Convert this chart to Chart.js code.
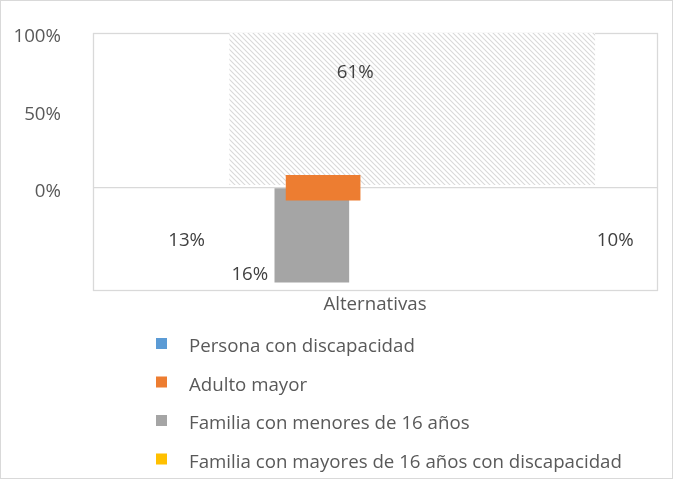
<!DOCTYPE html>
<html>
<head>
<meta charset="utf-8">
<script src="https://cdn.jsdelivr.net/npm/chart.js@4/dist/chart.umd.min.js"></script>
<style>
html,body{margin:0;padding:0;background:#fff;}
canvas{display:block;}
</style>
</head>
<body>
<canvas id="c" width="673" height="479"></canvas>
<script>
// ---- data ----
const categories = ['Alternativas'];
const seriesNames = [
  'Persona con discapacidad',
  'Adulto mayor',
  'Familia con menores de 16 años',
  'Familia con mayores de 16 años con discapacidad'
];
const seriesShares = [13, 10, 16, 61];          // data labels (%)
const yTickValues = [0, 50, 100];
// value-axis extents of the visible (distorted) marks
const adultoRange  = [8, -8];
const menoresRange = [0, -61];
const mayoresRange = [2, 100];
// positions of those marks on the hidden horizontal scale (0–100)
const adultoX = 40.8;
const menoresX = 38.8;
const mayoresX = 56.6;

// ---- styles ----
const legendColors = ['#5B9BD5', '#ED7D31', '#A5A5A5', '#FFC000'];
const FONT = '"Open Sans", sans-serif';
const FS = 18.7;
const TEXT = '#595959';
const LABEL_TEXT = '#404040';
const LINE = '#d9d9d9';

function hatchPattern() {
  const p = 5;
  const c = document.createElement('canvas');
  c.width = p; c.height = p;
  const g = c.getContext('2d');
  g.fillStyle = '#ffffff';
  g.fillRect(0, 0, p, p);
  g.strokeStyle = '#d9d9d9';
  g.lineWidth = 1.1;
  g.beginPath();
  g.moveTo(0, 0); g.lineTo(p, p);
  g.moveTo(-1, p - 1); g.lineTo(1, p + 1);
  g.moveTo(p - 1, -1); g.lineTo(p + 1, 1);
  g.stroke();
  return document.getElementById('c').getContext('2d').createPattern(c, 'repeat');
}

const framePlugin = {
  id: 'frame',
  beforeDraw(chart) {
    const ctx = chart.ctx;
    ctx.save();
    ctx.fillStyle = '#ffffff';
    ctx.fillRect(0, 0, chart.width, chart.height);
    ctx.strokeStyle = LINE;
    ctx.lineWidth = 1;
    ctx.strokeRect(0.5, 0.5, chart.width - 1, chart.height - 1);
    ctx.restore();
  },
  beforeDatasetsDraw(chart) {
    const a = chart.chartArea;
    const ctx = chart.ctx;
    ctx.save();
    ctx.strokeStyle = LINE;
    ctx.lineWidth = 1.3;
    ctx.strokeRect(Math.round(a.left) + 0.5, Math.round(a.top) + 0.5,
                   Math.round(a.right - a.left), Math.round(a.bottom - a.top));
    ctx.restore();
  }
};

const labelPlugin = {
  id: 'shareLabels',
  afterDatasetsDraw(chart, args, opts) {
    const xs = chart.scales.x, ys = chart.scales.y;
    const ctx = chart.ctx;
    ctx.save();
    ctx.font = opts.size + 'px ' + FONT;
    ctx.fillStyle = LABEL_TEXT;
    ctx.textAlign = 'center';
    ctx.textBaseline = 'middle';
    seriesShares.forEach((v, i) => {
      const an = opts.anchors[i];
      ctx.fillText(v + '%', xs.getPixelForValue(an.x), ys.getPixelForValue(an.y));
    });
    ctx.restore();
  }
};

const legendPlugin = {
  id: 'columnLegend',
  afterDraw(chart, args, opts) {
    const ctx = chart.ctx;
    ctx.save();
    ctx.font = opts.size + 'px ' + FONT;
    ctx.textAlign = 'left';
    ctx.textBaseline = 'middle';
    chart.data.datasets.forEach((ds, i) => {
      const top = opts.top + i * opts.step;
      ctx.fillStyle = legendColors[i];
      ctx.fillRect(opts.boxX, top, opts.box, opts.box);
      ctx.fillStyle = TEXT;
      ctx.fillText(ds.label, opts.textX, top + opts.textDy);
    });
    ctx.restore();
  }
};

new Chart(document.getElementById('c'), {
  type: 'bar',
  data: {
    labels: categories,
    datasets: [
      { label: seriesNames[0], data: [], backgroundColor: legendColors[0], grouped: false },
      { label: seriesNames[1], data: [{ x: adultoX, y: adultoRange }], backgroundColor: legendColors[1], barThickness: 74, grouped: false },
      { label: seriesNames[2], data: [{ x: menoresX, y: menoresRange }], backgroundColor: legendColors[2], barThickness: 74, grouped: false },
      { label: seriesNames[3], data: [{ x: mayoresX, y: mayoresRange }], backgroundColor: hatchPattern(), barThickness: 365, grouped: false }
    ]
  },
  options: {
    responsive: false,
    animation: false,
    devicePixelRatio: 1,
    layout: { padding: { top: 33, right: 16, left: 0, bottom: 160 } },
    plugins: {
      legend: { display: false },
      tooltip: { enabled: false },
      shareLabels: {
        size: FS,
        anchors: [
          { x: 16.6, y: -34.2 },
          { x: 92.6, y: -34.0 },
          { x: 27.8, y: -55.9 },
          { x: 46.5, y: 74.5 }
        ]
      },
      columnLegend: { size: FS, top: 338, step: 38.5, boxX: 156, box: 11, textX: 189, textDy: 9 }
    },
    scales: {
      x: {
        type: 'linear',
        min: 0, max: 100,
        offset: false,
        grid: { display: false },
        border: { display: false },
        ticks: { display: false },
        title: {
          display: true,
          text: categories[0],
          color: TEXT,
          font: { family: FONT, size: FS },
          padding: { top: 0, bottom: 3 }
        },
        afterFit(s) { s.height = 29; }
      },
      y: {
        min: -66, max: 100,
        afterBuildTicks(s) { s.ticks = yTickValues.map(v => ({ value: v })); },
        grid: {
          drawTicks: false,
          lineWidth: 1.3,
          color: c => (c.tick && c.tick.value === 0) ? LINE : 'rgba(0,0,0,0)'
        },
        border: { display: false },
        ticks: {
          color: TEXT,
          font: { family: FONT, size: FS },
          padding: 32,
          labelOffset: 4,
          callback: v => v + '%'
        },
        afterFit(s) { s.width = 93; s.paddingTop = 0; s.paddingBottom = 0; }
      }
    }
  },
  plugins: [framePlugin, labelPlugin, legendPlugin]
});
</script>
</body>
</html>
